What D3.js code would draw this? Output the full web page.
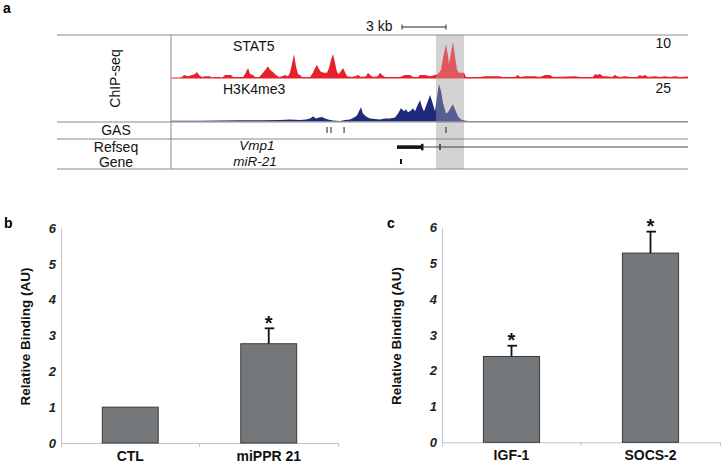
<!DOCTYPE html>
<html><head><meta charset="utf-8">
<script src="https://cdn.jsdelivr.net/npm/d3@7"></script>
<style>body{margin:0;background:#fff}svg{display:block;font-family:"Liberation Sans",Arial,sans-serif}</style>
</head><body><svg id="fig" width="723" height="465"></svg>
<script>
// ---------- Panel a data (genomic position in kb, signal) ----------
const regionKb = [0, 35.25];
const stat5 = [[0,0],[0.61,0],[0.75,0.3],[0.89,0.8],[1.16,0.5],[1.43,0.8],[1.64,1.1],[1.77,1.6],[1.91,0.8],[2.11,0.3],[2.32,0.5],[2.66,0.5],[2.80,0.1],[3.00,0.3],[3.34,0.3],[3.48,0.1],[3.68,0.8],[4.09,0.8],[4.23,0.3],[4.91,0.3],[5.05,1.1],[5.25,2.7],[5.39,1.1],[5.59,0.8],[5.73,0.3],[6.00,0.3],[6.07,0.5],[6.27,1.4],[6.48,2.4],[6.61,3.2],[6.75,2.2],[6.95,1.6],[7.16,0.8],[7.36,0.3],[7.57,0.5],[7.77,0.8],[7.98,0.5],[8.11,1.4],[8.25,3.8],[8.39,6.5],[8.52,3.2],[8.66,1.1],[8.80,0.8],[8.93,0.3],[9.48,0.3],[9.68,1.4],[9.82,2.7],[9.95,3.5],[10.09,2.4],[10.23,1.6],[10.43,1.4],[10.64,1.4],[10.77,2.7],[10.91,4.9],[11.05,6.5],[11.18,4.1],[11.32,1.6],[11.45,1.1],[11.59,1.9],[11.73,2.7],[11.86,1.6],[12.00,0.5],[12.34,0.3],[12.55,0.5],[12.75,0.8],[12.95,0.3],[13.30,0.5],[13.43,1.4],[13.57,0.8],[13.77,0.3],[14.11,0.5],[14.25,1.4],[14.39,0.8],[14.59,0.3],[15.61,0.3],[15.95,0.8],[16.30,0.8],[16.50,0.3],[16.84,0.3],[16.98,0.8],[17.32,0.8],[17.66,0.5],[18.00,0.8],[18.20,1.1],[18.41,2.2],[18.55,5.4],[18.75,9.2],[18.89,5.9],[18.95,3.8],[19.09,6.8],[19.23,9.7],[19.36,5.9],[19.50,2.2],[19.64,1.4],[19.98,1.4],[20.11,0.3],[21.07,0.3],[21.41,0.5],[22.43,0.5],[22.57,0.3],[23.45,0.3],[23.66,0.8],[23.80,0.3],[24.14,0.5],[24.82,0.5],[25.16,0.3],[25.50,0.8],[25.84,0.8],[26.05,0.3],[27.55,0.5],[27.89,0.3],[28.77,0.3],[28.91,1.1],[29.05,0.8],[29.25,1.1],[29.45,0.5],[29.73,0.5],[30.07,0.3],[30.27,0.8],[30.41,0.5],[30.61,0.3],[30.95,0.5],[31.30,0.3],[31.77,0.3],[31.98,0.8],[32.11,0.5],[32.32,0.8],[32.52,0.3],[32.98,0.5],[33.34,0.3],[33.68,0.5],[34.02,0.3],[34.36,0.5],[34.70,0.3],[35.25,0.4]];
const h3k4me3 = [[0,0.5],[1.98,0.5],[3.34,0.7],[4.70,0.8],[6.07,0.9],[7.43,1],[8.11,1.4],[8.80,1],[9.20,1.4],[9.48,2],[9.68,3.4],[9.89,2],[10.09,2.7],[10.30,3],[10.50,2],[10.70,1.4],[11.05,0.7],[11.52,0.3],[11.86,1],[12.20,1.4],[12.48,2.7],[12.68,4],[12.82,6.8],[12.95,9.5],[13.09,5.4],[13.30,3.4],[13.57,2],[13.91,1.7],[14.25,1.4],[14.59,2],[14.93,2],[15.27,2.7],[15.48,5.4],[15.68,8.8],[15.89,6.8],[16.02,8.1],[16.16,6.1],[16.37,7.4],[16.50,8.8],[16.64,6.8],[16.84,11.5],[16.98,14.2],[17.12,9.5],[17.25,6.8],[17.46,12.2],[17.66,17.6],[17.80,13.5],[18.00,6.8],[18.14,16.9],[18.27,25],[18.41,20.3],[18.55,12.2],[18.75,5.4],[18.89,6.1],[19.09,9.5],[19.23,11.5],[19.36,8.1],[19.57,3.4],[19.77,1.4],[20.05,0.5],[20.39,0.3],[35.25,0.3]];
const trackMax = {STAT5: 10, H3K4me3: 25};
const gasSites = [10.64, 10.91, 11.80, 18.75];
const vmp1Start = 15.41, vmp1ExonEnd = 17.05, vmp1CapEnd = 17.18, vmp1Mark = 18.34, vmp1End = 35.25;
const mir21Pos = 15.68;
const highlightKb = [18.07, 19.98];
const scaleBarStart = 15.75, scaleBarLen = 3;

// ---------- Panels b, c data ----------
const yTicks = [0,1,2,3,4,5,6];
const bCats = ["CTL", "miPPR 21"];
const bVals = [1.0, 2.77];
const bErrs = [0, 0.43];
const bSig  = [false, true];
const cCats = ["IGF-1", "SOCS-2"];
const cVals = [2.4, 5.29];
const cErrs = [0.3, 0.6];
const cSig  = [true, true];

const svg = d3.select("#fig");
const FONT = '"Liberation Sans",Arial,sans-serif';

// ================= Panel a =================
const LEFT = 57, DIV = 171, RIGHT = 688;
const TOP = 35, SEP1 = 121.5, SEP2 = 139, BOT = 169;
const gx = d3.scaleLinear().domain(regionKb).range([DIV, RIGHT]);
const yS = d3.scaleLinear().domain([0, trackMax.STAT5]).range([78, 41]);
const yH = d3.scaleLinear().domain([0, trackMax.H3K4me3]).range([SEP1, 84]);

svg.append("text").attr("x",3).attr("y",13).attr("font-size",14).attr("font-weight","bold").text("a");

// highlight background
svg.append("rect").attr("x",gx(highlightKb[0])).attr("y",TOP).attr("width",gx(highlightKb[1])-gx(highlightKb[0]))
  .attr("height",BOT-TOP).attr("fill","#d3d3d3");

// tracks
const areaS = d3.area().x(d=>gx(d[0])).y0(yS(0)).y1(d=>yS(d[1]));
const areaH = d3.area().x(d=>gx(d[0])).y0(yH(0)).y1(d=>yH(d[1]));
svg.append("path").datum(stat5).attr("d",areaS).attr("fill","#e8202a");
svg.append("line").attr("x1",DIV).attr("x2",RIGHT).attr("y1",yS(0)).attr("y2",yS(0)).attr("stroke","#e8202a").attr("stroke-width",1);
svg.append("path").datum(h3k4me3).attr("d",areaH).attr("fill","#1f2a78");

// semi-transparent highlight on top of signal
svg.append("rect").attr("x",gx(highlightKb[0])).attr("y",TOP).attr("width",gx(highlightKb[1])-gx(highlightKb[0]))
  .attr("height",SEP1-TOP).attr("fill","#d3d3d3").attr("opacity",0.3);

// frame lines
[TOP, SEP1+0.5, SEP2, BOT].forEach(y=>{
  svg.append("line").attr("x1",LEFT).attr("x2",RIGHT).attr("y1",y).attr("y2",y).attr("stroke","#8a8a8a").attr("stroke-width",1);
});
svg.append("line").attr("x1",DIV).attr("x2",DIV).attr("y1",TOP).attr("y2",BOT).attr("stroke","#8a8a8a").attr("stroke-width",1);

// labels
const lab = (x,y,t,opts={})=>{
  const e = svg.append("text").attr("x",x).attr("y",y).attr("font-size",opts.size||14).attr("fill","#111").text(t);
  if(opts.anchor) e.attr("text-anchor",opts.anchor);
  if(opts.italic) e.attr("font-style","italic");
  return e;
};
lab(233,51,"STAT5");
lab(223,94,"H3K4me3");
lab(671,48,trackMax.STAT5,{anchor:"end"});
lab(671,93,trackMax.H3K4me3,{anchor:"end"});
lab(116,135,"GAS",{anchor:"middle"});
lab(116,152,"Refseq",{anchor:"middle"});
lab(116,167,"Gene",{anchor:"middle"});
lab(257,149.5,"Vmp1",{italic:true,anchor:"middle",size:13.5});
lab(255,165.5,"miR-21",{italic:true,anchor:"middle",size:13.5});
svg.append("text").attr("transform","translate(120,78.5) rotate(-90)").attr("text-anchor","middle")
  .attr("font-size",14).attr("fill","#111").text("ChIP-seq");

// GAS sites
svg.selectAll(".gas").data(gasSites).enter().append("line")
  .attr("x1",d=>gx(d)).attr("x2",d=>gx(d)).attr("y1",127).attr("y2",133).attr("stroke","#222").attr("stroke-width",1);

// gene model
svg.append("line").attr("x1",gx(vmp1Start)).attr("x2",gx(vmp1End)).attr("y1",147).attr("y2",147).attr("stroke","#444").attr("stroke-width",1);
svg.append("rect").attr("x",gx(vmp1Start)).attr("y",145.3).attr("width",gx(vmp1ExonEnd)-gx(vmp1Start)).attr("height",3.6).attr("fill","#1a1010");
svg.append("rect").attr("x",gx(vmp1ExonEnd)).attr("y",143.8).attr("width",gx(vmp1CapEnd)-gx(vmp1ExonEnd)+0.5).attr("height",6.5).attr("fill","#1a1010");
svg.append("rect").attr("x",gx(vmp1Mark)-1).attr("y",144).attr("width",2).attr("height",6).attr("fill","#555");
svg.append("rect").attr("x",gx(mir21Pos)-1).attr("y",159).attr("width",2).attr("height",5).attr("fill","#111");

// scale bar
const sb0 = gx(scaleBarStart), sb1 = gx(scaleBarStart+scaleBarLen);
svg.append("line").attr("x1",sb0).attr("x2",sb1).attr("y1",27).attr("y2",27).attr("stroke","#222");
[sb0,sb1].forEach(x=>svg.append("line").attr("x1",x).attr("x2",x).attr("y1",24.5).attr("y2",29.5).attr("stroke","#222"));
lab(366,31,"3 kb");

// ================= Panels b, c =================
function barPanel(cats, vals, errs, sig, left, right, base, top, letter, letterX, titleX){
  const x = d3.scaleBand().domain(cats).range([left,right]);
  const y = d3.scaleLinear().domain([0,6]).range([base, top]);
  const g = svg.append("g");
  g.append("text").attr("x",letterX).attr("y",228).attr("font-size",14).attr("font-weight","bold").text(letter);
  // y axis
  const ya = g.append("g").attr("transform",`translate(${left},0)`)
     .call(d3.axisLeft(y).tickValues(yTicks).tickFormat(d3.format("d")).tickSize(0).tickPadding(5));
  ya.select(".domain").attr("stroke","#c4c4c4");
  ya.selectAll("text").attr("font-size",13).attr("font-weight","bold").attr("font-style","italic")
     .attr("fill","#222").attr("font-family",FONT);
  // x axis
  const xa = g.append("g").attr("transform",`translate(0,${base})`)
     .call(d3.axisBottom(x).tickSizeInner(0).tickSizeOuter(4).tickPadding(8));
  xa.select(".domain").attr("stroke","#c4c4c4");
  xa.selectAll("text").attr("font-size",14).attr("font-weight","bold").attr("fill","#111").attr("font-family",FONT);
  cats.slice(1).forEach(c=>{
    g.append("line").attr("x1",x(c)).attr("x2",x(c)).attr("y1",base).attr("y2",base+4).attr("stroke","#c4c4c4");
  });
  // title
  g.append("text").attr("transform",`translate(${titleX},${(base+top)/2+1}) rotate(-90)`).attr("text-anchor","middle")
    .attr("font-size",13.5).attr("font-weight","bold").attr("fill","#111").text("Relative Binding (AU)");
  // bars
  const bw = x.bandwidth()*0.404;
  cats.forEach((c,i)=>{
    const cx = x(c)+x.bandwidth()/2;
    g.append("rect").attr("x",cx-bw/2).attr("y",y(vals[i])).attr("width",bw).attr("height",y(0)-y(vals[i]))
      .attr("fill","#75787b").attr("stroke","#3a3a3a").attr("stroke-width",1);
    if(errs[i]>0){
      const ye = y(vals[i]+errs[i]);
      g.append("line").attr("x1",cx).attr("x2",cx).attr("y1",y(vals[i])).attr("y2",ye).attr("stroke","#111").attr("stroke-width",1.8);
      g.append("line").attr("x1",cx-4).attr("x2",cx+5.5).attr("y1",ye).attr("y2",ye).attr("stroke","#111").attr("stroke-width",1.8);
    }
    if(sig[i]){
      g.append("text").attr("x",cx).attr("y",y(vals[i]+errs[i])+1.5).attr("text-anchor","middle")
       .attr("font-size",20).attr("font-weight","bold").attr("fill","#111").text("*");
    }
  });
}
barPanel(bCats,bVals,bErrs,bSig,61,338,443,228,"b",4,30);
barPanel(cCats,cVals,cErrs,cSig,442,720,442.3,227.7,"c",387,401);
</script></body></html>
